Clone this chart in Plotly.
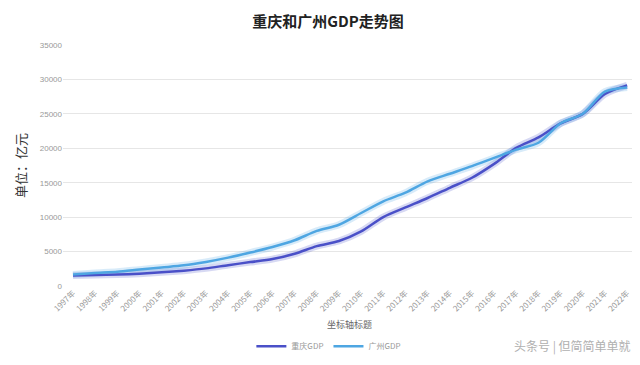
import plotly.graph_objects as go

years = ["1997年", "1998年", "1999年", "2000年", "2001年", "2002年", "2003年", "2004年",
         "2005年", "2006年", "2007年", "2008年", "2009年", "2010年", "2011年", "2012年",
         "2013年", "2014年", "2015年", "2016年", "2017年", "2018年", "2019年", "2020年",
         "2021年", "2022年"]
chongqing = [1510, 1600, 1660, 1790, 1980, 2230, 2560, 3030, 3470, 3910, 4680, 5790,
             6530, 7930, 10010, 11410, 12780, 14260, 15720, 17740, 20070, 21590, 23610,
             25000, 27890, 29130]
guangzhou = [1680, 1890, 2060, 2380, 2690, 3000, 3500, 4120, 4860, 5660, 6640, 8000,
             8900, 10600, 12300, 13550, 15200, 16300, 17400, 18600, 19800, 20800, 23630,
             25020, 28230, 28840]
yticks = [0, 5000, 10000, 15000, 20000, 25000, 30000, 35000]
ytick_labels = [str(v) for v in yticks]

x = list(range(len(years)))
fig = go.Figure()

series = [("重庆GDP", chongqing, "#4a50c8", "rgba(74,80,200,0.22)"),
          ("广州GDP", guangzhou, "#4ea6e2", "rgba(78,166,226,0.22)")]
for name, vals, col, glow in series:
    fig.add_trace(go.Scatter(x=x, y=vals, mode="lines", showlegend=False, hoverinfo="skip",
                             line=dict(color=glow, width=7, shape="spline", smoothing=0.8)))
for name, vals, col, glow in series:
    fig.add_trace(go.Scatter(x=x, y=vals, mode="lines", name=name,
                             line=dict(color=col, width=2.5, shape="spline", smoothing=0.8)))

fig.update_layout(
    width=640, height=365,
    margin=dict(l=55, r=12, t=37, b=80),
    plot_bgcolor="white", paper_bgcolor="white",
    font=dict(family="Noto Sans CJK SC, sans-serif", color="#999"),
    title=dict(text="<b>重庆和广州GDP走势图</b>", x=0.5, xanchor="center", y=0.962, yanchor="middle",
               font=dict(size=15, color="#222", family="Noto Sans CJK SC, sans-serif")),
    xaxis=dict(range=[-0.45, 25.4], tickmode="array", tickvals=x, ticktext=years,
               tickangle=-45, tickfont=dict(size=8, color="#999"), showgrid=False,
               zeroline=False, showline=False, ticks=""),
    yaxis=dict(range=[0, 35000], tickmode="array", tickvals=yticks, ticktext=ytick_labels,
               tickfont=dict(size=8, color="#999", family="Liberation Sans, Arial, sans-serif"),
               gridcolor="#e6e6e6", gridwidth=1, zeroline=False, showline=False,
               title=dict(text="单位：亿元", font=dict(size=13, color="#333"), standoff=10)),
    legend=dict(orientation="h", x=0.464, xanchor="center", y=-0.25, yanchor="middle",
                font=dict(size=8, color="#999"), tracegroupgap=0),
    annotations=[
        dict(text="坐标轴标题", xref="paper", yref="paper", x=0.5, y=-0.161,
             showarrow=False, font=dict(size=9, color="#666"), yanchor="middle"),
        dict(text="头条号 | 但简简单单就", xref="paper", yref="paper", x=0.995, y=-0.25,
             xanchor="right", yanchor="middle", showarrow=False,
             font=dict(size=12, color="#b0b0b0")),
    ],
)

fig.write_html("out.html")
